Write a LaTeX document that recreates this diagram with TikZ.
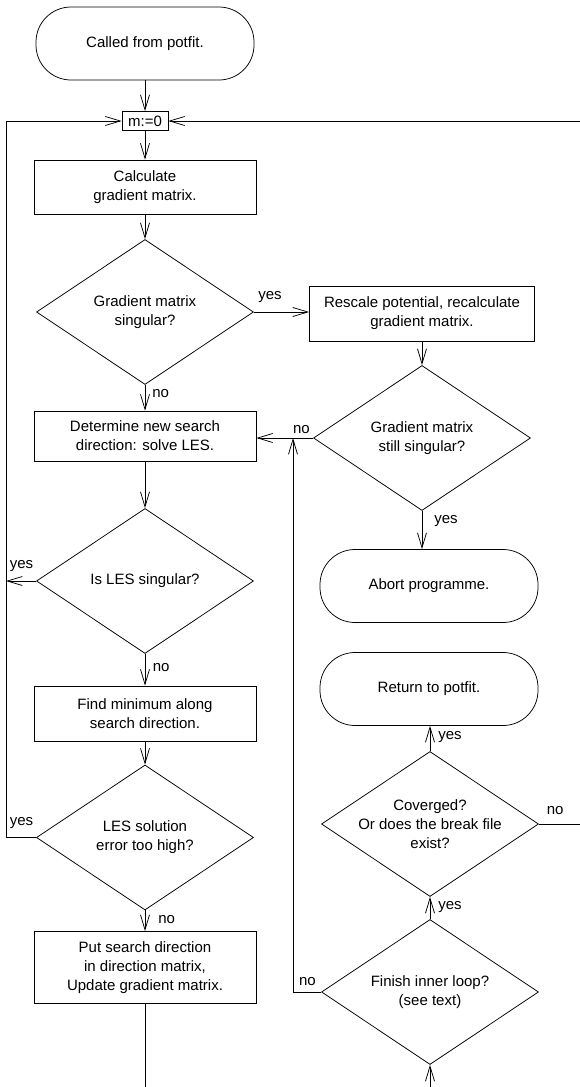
\documentclass[tikz,border=0pt]{standalone}
\usepackage{fontspec}
\setmainfont{Liberation Sans}
\usetikzlibrary{arrows.meta,shapes.geometric}

\begin{document}
\begin{tikzpicture}[x=1pt, y=-1pt, line width=0.75pt,
  >={Straight Barb[length=15pt,width=9pt]},
  every node/.style={font=\fontsize{15}{19}\selectfont, align=center},
  proc/.style={draw, rectangle, inner sep=2pt, minimum width=222pt},
  term/.style={draw, rectangle, rounded corners=35pt, minimum width=218pt, minimum height=73pt},
  ask/.style={draw, diamond, aspect=1.5, inner sep=0pt, minimum width=217pt, minimum height=145pt},
  lbl/.style={inner sep=0pt}]
  \useasboundingbox (0,0) rectangle (580,1087);

  % left column
  \node[term] (start) at (145,43.5) {Called from potfit.};
  \node[draw, inner sep=0pt, minimum width=46pt, minimum height=19pt] (init) at (145,121) {m:=0};
  \node[proc, minimum height=54pt] (calc) at (145,187) {Calculate\\gradient matrix.};
  \node[ask] (sing) at (145,312) {Gradient matrix\\singular?};
  \node[proc, minimum height=50pt] (dir) at (145,436) {Determine new search\\direction: solve LES.};
  \node[ask] (les) at (145,581) {Is LES singular?};
  \node[proc, minimum height=55pt] (lmin) at (145,713.5) {Find minimum along\\search direction.};
  \node[ask] (err) at (145,837.5) {LES solution\\error too high?};
  \node[proc, minimum height=72pt] (upd) at (145,967.5) {Put search direction\\in direction matrix,\\Update gradient matrix.};

  % right column
  \node[proc, minimum width=225pt, minimum height=55pt] (resc) at (422,313.5) {Rescale potential, recalculate\\gradient matrix.};
  \node[ask] (still) at (422,438) {Gradient matrix\\still singular?};
  \node[term] (abort) at (429,586) {Abort programme.};
  \node[term] (ret) at (429,689) {Return to potfit.};
  \node[ask, inner xsep=-4pt] (conv) at (430,824) {Coverged?\\Or does the break file\\exist?};
  \node[ask] (inner) at (430,992) {Finish inner loop?\\(see text)};

  \coordinate (lloop) at (6,121);
  \coordinate (nojoin) at (293,438);

  % connectors
  \draw[->] (start) -- (init);
  \draw[->] (init) -- (calc);
  \draw[->] (calc) -- (sing);
  \draw[->] (sing.east) -- node[lbl, pos=0, anchor=west, xshift=4pt, yshift=15pt] (y1) {yes} (sing.east -| resc.west);
  \draw[->] (sing) -- node[lbl, pos=0, anchor=west, xshift=7pt, yshift=-8.5pt] (n1) {no} (dir);
  \draw[->] (resc) -- (still);
  \draw[->] (still.west) -- node[lbl, pos=0, anchor=east, xshift=-3pt, yshift=8.5pt] (n2) {no} (still.west -| dir.east);
  \draw[->] (still.south) -- node[lbl, pos=0, anchor=west, xshift=12pt, yshift=-10.5pt] (y2) {yes} (still.south |- abort.north);
  \draw[->] (dir) -- (les);
  \draw[->] (les.west) -- node[lbl, pos=0, anchor=east, xshift=-2.5pt, yshift=15pt] (y3) {yes} (les.west -| lloop);
  \draw[->] (les) -- node[lbl, pos=0, anchor=west, xshift=7.5pt, yshift=-13.5pt] (n3) {no} (lmin);
  \draw[->] (lmin) -- (err);
  \draw[->] (err.west) -- node[lbl, pos=0, anchor=east, xshift=-2.5pt, yshift=14.5pt] (y4) {yes} (err.west -| lloop) |- (init.west);
  \draw[->] (err) -- node[lbl, pos=0, anchor=west, xshift=13pt, yshift=-9pt] (n4) {no} (upd);
  \draw[->] (upd.south) -- ++(0,110) -| (inner.south);
  \draw[->] (inner) -- node[lbl, pos=0, anchor=west, xshift=8pt, yshift=12pt] (y6) {yes} (conv);
  \draw[->] (conv.north) -- node[lbl, pos=0, anchor=west, xshift=8pt, yshift=14pt] (y5) {yes} (conv.north |- ret.south);
  \draw[->] (conv.east) -- node[lbl, pos=0, anchor=west, xshift=7.5pt, yshift=13pt] (n5) {no} ++(70,0) |- (init.east);
  \draw[->] (inner.west) -- node[lbl, pos=0, anchor=east, xshift=-5pt, yshift=10pt] (n6) {no} (inner.west -| nojoin) -- (nojoin);
\end{tikzpicture}
\end{document}
